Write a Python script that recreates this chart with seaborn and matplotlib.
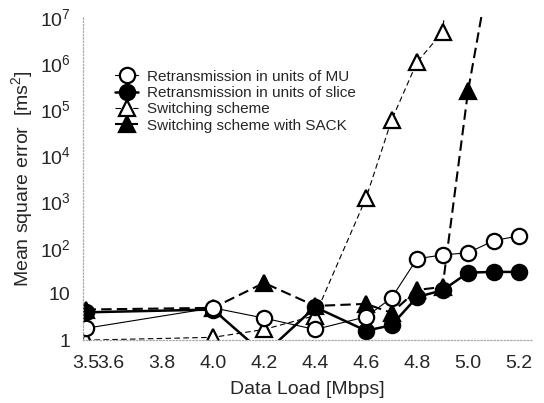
import numpy as np
import pandas as pd
import matplotlib
matplotlib.use('Agg')
import matplotlib.pyplot as plt
import seaborn as sns
from matplotlib.legend_handler import HandlerLine2D

# data
load = [3.5, 4.0, 4.2, 4.4, 4.6, 4.7, 4.8, 4.9, 5.0, 5.1, 5.2]
mse_mu = [1.8, 5.0, 3.0, 1.7, 3.2, 8.2, 58, 70, 78, 142, 182]
mse_slice = [4.0, 4.6, 0.5, 5.2, 1.6, 2.1, 8.6, 12, 29, 30, 30]
load_switch = [3.5, 4.0, 4.2, 4.4, 4.6, 4.7, 4.8, 4.9, 5.0]
mse_switch = [1.0, 1.15, 1.7, 3.4, 1200, 58000, 1.05e6, 4.7e6, 1e12]
load_sack = [3.5, 4.0, 4.2, 4.4, 4.6, 4.7, 4.8, 4.9, 5.0, 5.1]
mse_sack = [4.6, 5.0, 17.4, 5.5, 6.1, 3.9, 12.2, 14.2, 2.5e5, 3e8]

labels = ['Retransmission in units of MU', 'Retransmission in units of slice',
          'Switching scheme', 'Switching scheme with SACK']
xticks = [3.5, 3.6, 3.8, 4.0, 4.2, 4.4, 4.6, 4.8, 5.0, 5.2]
yticks = [1, 10, 1e2, 1e3, 1e4, 1e5, 1e6, 1e7]
yticklabels = ['1', '10', '$10^2$', '$10^3$', '$10^4$', '$10^5$', '$10^6$', '$10^7$']

sns.set_style('white')
plt.rcParams['font.family'] = ['Liberation Sans', 'DejaVu Sans']
plt.rcParams['mathtext.default'] = 'regular'

fig = plt.figure(figsize=(5.44, 4.03), dpi=100)
ax = fig.add_axes([0.1526, 0.156, 0.825, 0.802])
ax.set_yscale('log')

common = dict(color='black', markeredgecolor='black', markeredgewidth=1.6,
              estimator=None, ax=ax)

df_sw = pd.DataFrame({'x': load_switch, 'y': mse_switch})
sns.lineplot(data=df_sw, x='x', y='y', marker='^', markersize=11,
             markerfacecolor='white', linestyle=(0, (5, 3)), linewidth=0.8,
             label=labels[2], **common)
df_sack = pd.DataFrame({'x': load_sack, 'y': mse_sack})
sns.lineplot(data=df_sack, x='x', y='y', marker='^', markersize=11,
             markerfacecolor='black', linestyle=(0, (5, 2.5)), linewidth=1.5,
             label=labels[3], **common)
df_sl = pd.DataFrame({'x': load, 'y': mse_slice})
sns.lineplot(data=df_sl, x='x', y='y', marker='o', markersize=11,
             markerfacecolor='black', linestyle='-', linewidth=1.8,
             label=labels[1], **common)
df_mu = pd.DataFrame({'x': load, 'y': mse_mu})
sns.lineplot(data=df_mu, x='x', y='y', marker='o', markersize=11,
             markerfacecolor='white', linestyle='-', linewidth=0.8,
             label=labels[0], **common)

ax.set_xlim(3.49, 5.25)
ax.set_ylim(1, 1e7)
ax.set_xticks(xticks, labels=[f'{v:.1f}' for v in xticks])
ax.set_yticks(yticks, labels=yticklabels)
ax.minorticks_off()
ax.tick_params(axis='x', length=0, pad=11, labelsize=14)
ax.tick_params(axis='y', length=3, direction='in', color='#888888', pad=9, labelsize=14)

for s in ['top', 'right']:
    ax.spines[s].set_visible(False)
for s in ['left', 'bottom']:
    ax.spines[s].set_color('#aaaaaa')
    ax.spines[s].set_linestyle(':')
    ax.spines[s].set_linewidth(0.9)

ax.set_xlabel('Data Load [Mbps]', fontsize=14, labelpad=6)
ax.set_ylabel('Mean square error  [ms$^2$]', fontsize=14, labelpad=3)


class LeftMarker(HandlerLine2D):
    def get_xdata(self, legend, xdescent, ydescent, width, height, fontsize):
        x0 = -xdescent + 0.25 * width
        return np.array([x0, -xdescent + width]), np.array([x0])


handles, labs = ax.get_legend_handles_labels()
order = [labs.index(l) for l in labels]
ax.legend([handles[i] for i in order], [labs[i] for i in order],
          loc='upper left', bbox_to_anchor=(100 / 544, 1 - 62 / 403),
          bbox_transform=fig.transFigure, frameon=False, fontsize=11,
          borderpad=0, handlelength=2.0, handletextpad=0.6, labelspacing=0.15,
          handler_map={h: LeftMarker(numpoints=1) for h in handles})

fig.savefig('out.png', dpi=100)
